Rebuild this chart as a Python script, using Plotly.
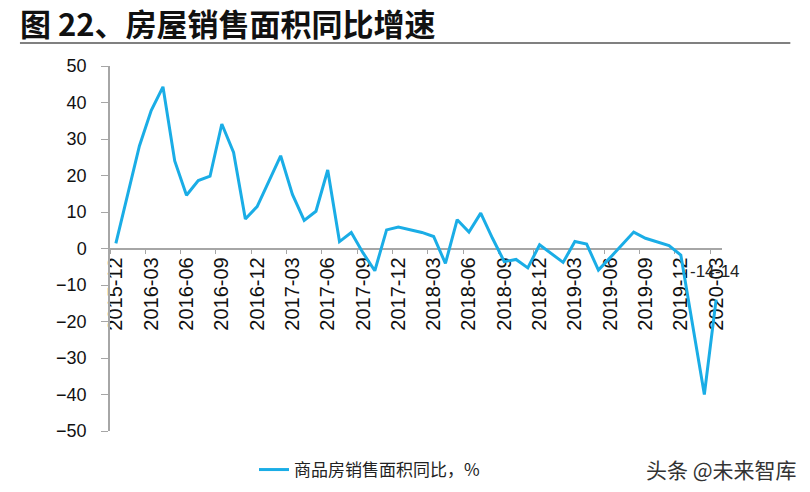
import plotly.graph_objects as go

# ---- data ----
months = [
    "2015-12",
    "2016-01", "2016-02", "2016-03", "2016-04", "2016-05", "2016-06",
    "2016-07", "2016-08", "2016-09", "2016-10", "2016-11", "2016-12",
    "2017-01", "2017-02", "2017-03", "2017-04", "2017-05", "2017-06",
    "2017-07", "2017-08", "2017-09", "2017-10", "2017-11", "2017-12",
    "2018-01", "2018-02", "2018-03", "2018-04", "2018-05", "2018-06",
    "2018-07", "2018-08", "2018-09", "2018-10", "2018-11", "2018-12",
    "2019-01", "2019-02", "2019-03", "2019-04", "2019-05", "2019-06",
    "2019-07", "2019-08", "2019-09", "2019-10", "2019-11", "2019-12",
    "2020-01", "2020-02", "2020-03",
]
sales_area_yoy = [
    1.4,
    None, 28.1, 37.8, 44.3, 24.0, 14.6,
    18.6, 19.8, 34.1, 26.3, 8.1, 11.5,
    None, 25.4, 14.8, 7.7, 10.2, 21.5,
    1.9, 4.4, -1.2, -6.1, 5.1, 5.9,
    None, 4.4, 3.3, -4.1, 7.9, 4.5,
    9.7, 2.8, -3.6, -3.0, -5.3, 1.0,
    None, -3.8, 1.9, 1.2, -5.9, -2.5,
    1.0, 4.5, 2.8, 1.9, 0.8, -1.8,
    None, -40.0, -14.0,
]
series_name = "商品房销售面积同比，%"
title_text = "图 22、房屋销售面积同比增速"
watermark = "头条 @未来智库"
y_ticks = [50, 40, 30, 20, 10, 0, -10, -20, -30, -40, -50]

# ---- derived ----
idx = list(range(len(months)))
label_idx = idx[::3]
label_txt = [months[i] for i in label_idx]
boundaries = [i - 0.5 for i in label_idx]

W, H = 810, 492
L, T = 110, 66
PR, PB = 721.7, 431
R, B = W - PR, H - PB
pw, ph = W - L - R, H - T - B

def px_x(p):
    return (p - L) / pw

def px_y(p):
    return (H - B - p) / ph

NUM_FONT = "Liberation Sans, Arial, sans-serif"
CJK_FONT = "Noto Sans CJK SC, sans-serif"
BLUE = "#1AADE6"
AXIS = "#A6A6A6"

fig = go.Figure()
fig.add_trace(go.Scatter(
    x=idx, y=sales_area_yoy, mode="lines", name=series_name,
    connectgaps=True, line=dict(color=BLUE, width=3),
))

last = len(months) - 1
for dx in (-14, 11):
    fig.add_annotation(
        x=idx[last], y=sales_area_yoy[last], xref="x", yref="y",
        text=str(int(sales_area_yoy[last])), showarrow=False,
        xshift=dx, yshift=28, font=dict(family=NUM_FONT, size=17, color="#222"),
    )

fig.update_layout(
    width=W, height=H,
    margin=dict(l=L, r=R, t=T, b=B, autoexpand=False),
    paper_bgcolor="white", plot_bgcolor="white",
    showlegend=True,
    legend=dict(
        orientation="h", xref="container", yref="container",
        x=254 / W, y=(H - 470) / H, xanchor="left", yanchor="middle",
        font=dict(family=CJK_FONT, size=17, color="#222"),
        bgcolor="rgba(0,0,0,0)",
    ),
    xaxis=dict(
        range=[-0.5, len(months) - 0.5],
        anchor="free", position=0.5,
        tickmode="array", tickvals=label_idx, ticktext=label_txt,
        tickangle=-90, ticks="outside", ticklen=0,
        tickfont=dict(family=NUM_FONT, size=20, color="#111"),
        showline=True, linecolor=AXIS, linewidth=1.5,
        showgrid=False, zeroline=False, layer="below traces",
        minor=dict(tickmode="array", tickvals=boundaries, ticks="outside",
                   ticklen=5, tickcolor=AXIS, tickwidth=1.2, showgrid=False),
    ),
    yaxis=dict(
        range=[-50, 50], tickmode="array", tickvals=y_ticks,
        ticks="outside", ticklen=7, tickcolor=AXIS, tickwidth=1.2,
        showline=True, linecolor=AXIS, linewidth=1.5,
        showgrid=False, zeroline=False, ticklabelstandoff=11,
        tickfont=dict(family=NUM_FONT, size=18, color="#111"),
    ),
)

fig.add_annotation(
    xref="paper", yref="paper", x=px_x(18), y=px_y(23),
    xanchor="left", yanchor="middle", showarrow=False,
    text="<b>" + title_text + "</b>",
    font=dict(family=CJK_FONT, size=31, color="#111"),
)
fig.add_shape(
    type="line", xref="paper", yref="paper",
    x0=px_x(20), x1=px_x(790), y0=px_y(43), y1=px_y(43),
    line=dict(color="#808080", width=2),
)
fig.add_annotation(
    xref="paper", yref="paper", x=px_x(644), y=px_y(469),
    xanchor="left", yanchor="middle", showarrow=False,
    text=watermark, font=dict(family=CJK_FONT, size=21, color="#333"),
)

fig.write_html(
    "out.html",
    config={"displayModeBar": False},
    post_script="document.body.style.margin='0';document.body.style.overflow='hidden';",
)
